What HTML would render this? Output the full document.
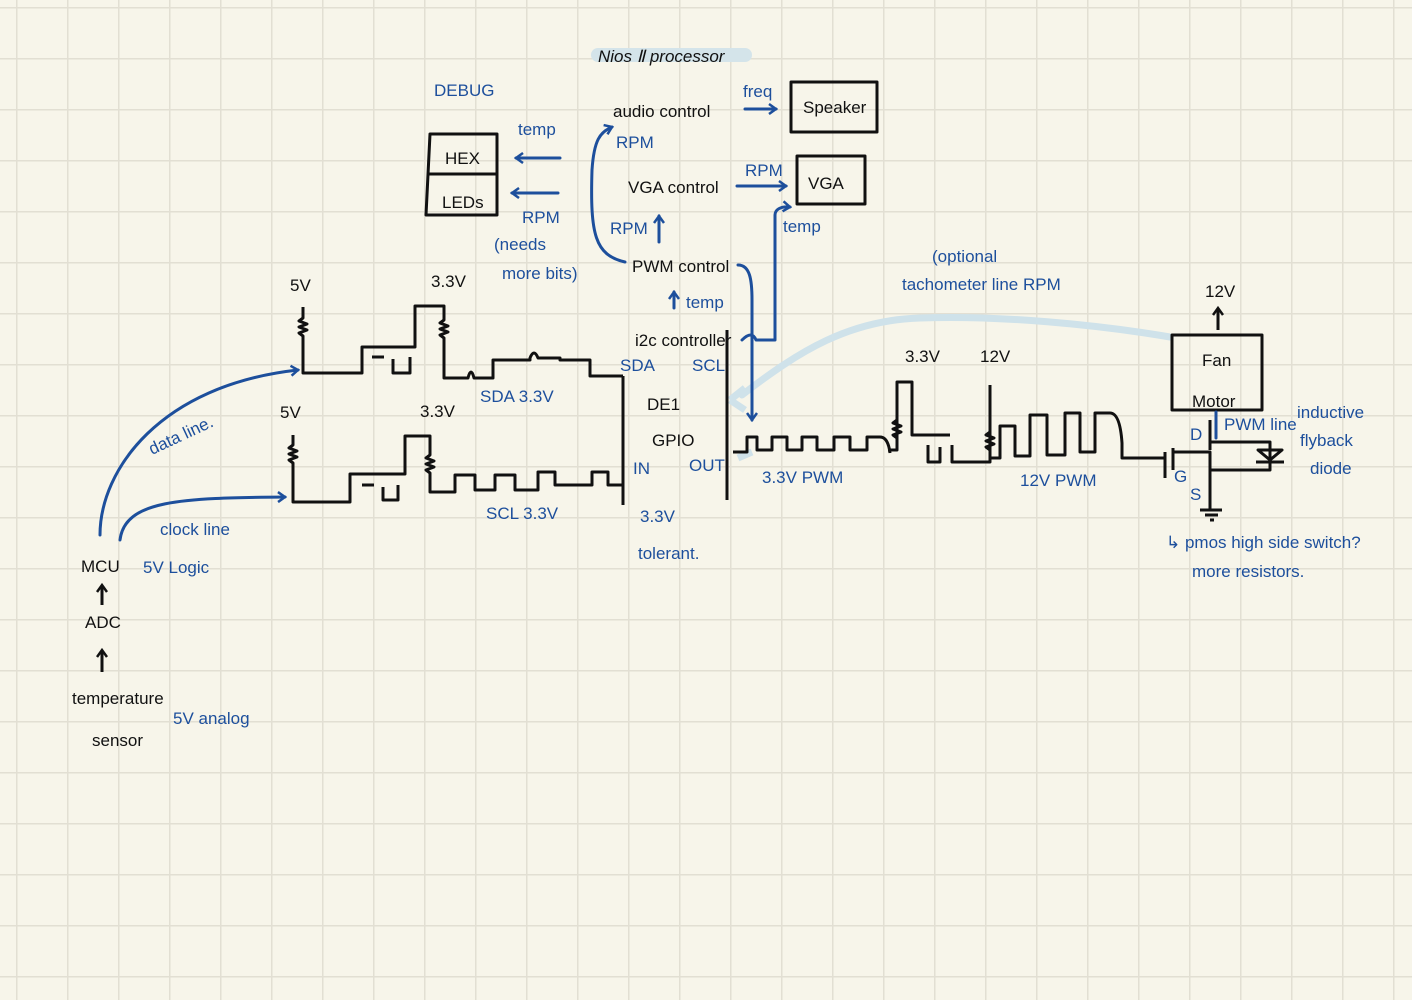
<!DOCTYPE html>
<html><head><meta charset="utf-8"><style>
html,body{margin:0;padding:0;background:#f7f5ea;}
svg{display:block}
text{font-family:"Liberation Sans",sans-serif;}
.k{fill:#111;font-size:17px}
.b{fill:#1d4f9c;font-size:17px}
</style></head><body>
<svg width="1412" height="1000" viewBox="0 0 1412 1000" xmlns="http://www.w3.org/2000/svg">
<defs>
<pattern id="g" x="16" y="7" width="51" height="51" patternUnits="userSpaceOnUse">
<path d="M0 0H51M0 0V51" stroke="#e2dfd3" stroke-width="3" fill="none"/>
</pattern>
<marker id="ab" markerUnits="userSpaceOnUse" markerWidth="12" markerHeight="12" refX="9" refY="6" orient="auto"><path d="M2 1L9 6L2 11" stroke="#1d4f9c" stroke-width="2.5" fill="none"/></marker>
<marker id="ak" markerUnits="userSpaceOnUse" markerWidth="12" markerHeight="12" refX="9" refY="6" orient="auto"><path d="M2 1L9 6L2 11" stroke="#111" stroke-width="2.5" fill="none"/></marker>
</defs>
<rect width="1412" height="1000" fill="#f7f5ea"/>
<rect width="1412" height="1000" fill="url(#g)"/>

<path d="M598 55 H745" stroke="#d4e4ea" stroke-width="14" stroke-linecap="round" fill="none"/>
<path d="M742 395 C800 350 850 320 920 318 C1000 315 1100 325 1170 337" stroke="#cfe2ea" stroke-width="7" stroke-linecap="round" fill="none"/>
<path d="M730 400 L745 388 M730 400 L745 410" stroke="#cfe2ea" stroke-width="7" fill="none"/>
<path d="M738 458 L752 452" stroke="#cfe2ea" stroke-width="7" fill="none"/>

<g stroke="#111" stroke-width="3" fill="none" stroke-linejoin="round">
<path d="M303 307 V318 l-4 3 l8 3 l-8 3 l8 3 l-8 3 l4 3 V373 H362 V347 H415 V306 H444 V320 l-4 3 l8 3 l-8 3 l8 3 l-8 3 l4 3 V378 H468 q3 -12 6 0 H493 V360 H530 V358 q4 -10 8 0 H560 V360 H590 V376 H623"/>
<path d="M372 357 H384 M393 359 V373 H410 V357"/>
<path d="M623 376 V505"/>
<path d="M293 435 V445 l-4 3 l8 3 l-8 3 l8 3 l-8 3 l4 3 V502 H350 V474 H405 V436 H430 V455 l-4 3 l8 3 l-8 3 l8 3 l-8 3 l4 3 V492 H455 V475 H475 V490 H495 V475 H515 V490 H538 V472 H555 V485 H592 V472 H608 V485 H622"/>
<path d="M362 485 H374 M383 487 V500 H398 V485"/>
<path d="M727 330 V500"/>
<path d="M733 452 H747 V437 H757 V450 H772 V437 H787 V450 H802 V437 H817 V450 H834 V437 H850 V450 H867 V437 H880 q8 0 10 16"/>
<path d="M888 450 H897 V420 l-4 3 l8 3 l-8 3 l8 3 l-8 3 l4 3 V382 H912 V435 H950"/>
<path d="M928 445 V462 H940 V447 M952 445 V462 H990 V432 l-4 3 l8 3 l-8 3 l8 3 l-8 3 l4 3 V385"/>
<path d="M990 458 H1000 V426 H1015 V456 H1030 V415 H1047 V455 H1065 V413 H1080 V452 H1095 V413 H1110 q10 0 12 30 V458 H1165"/>
<path d="M1165 452 V478 M1173 448 V470 M1173 452 H1210 V500 M1210 450 V442 H1270 V470 H1210 M1210 420 V442"/>
<path d="M1258 450 L1270 460 L1282 450 Z M1256 462 H1284"/>
<path d="M1210 500 V510 M1200 510 H1222 M1205 515 H1218 M1210 520 H1214"/>
<path d="M1172 335 H1262 V410 H1172 Z"/>
<path d="M1218 330 V308" marker-end="url(#ak)"/>
<path d="M430 134 H497 V215 H426 Z M428 174 H497"/>
<path d="M791 82 H877 V132 H791 Z"/>
<path d="M797 156 H865 V204 H797 Z"/>
<path d="M102 605 V585" marker-end="url(#ak)"/>
<path d="M102 672 V650" marker-end="url(#ak)"/>
</g>

<g stroke="#1d4f9c" stroke-width="3" fill="none" stroke-linejoin="round" stroke-linecap="round">
<path d="M100 535 C100 470 160 385 298 370" marker-end="url(#ab)"/>
<path d="M120 540 C125 500 180 498 285 497" marker-end="url(#ab)"/>
<path d="M560 158 H516" marker-end="url(#ab)"/>
<path d="M558 193 H512" marker-end="url(#ab)"/>
<path d="M625 262 C595 255 590 235 592 170 C594 140 600 132 612 127" marker-end="url(#ab)"/>
<path d="M745 109 H776" marker-end="url(#ab)"/>
<path d="M737 186 H786" marker-end="url(#ab)"/>
<path d="M659 242 V216" marker-end="url(#ab)"/>
<path d="M674 308 V292" marker-end="url(#ab)"/>
<path d="M738 265 C750 265 752 280 752 300 V420" marker-end="url(#ab)"/>
<path d="M742 340 Q752 330 756 340 H775 V215 C775 210 780 206 790 207" marker-end="url(#ab)"/>
<path d="M1216 412 V438"/>
</g>

<text class="k" x="598" y="62" font-style="italic" font-size="17">Nios Ⅱ processor</text>
<text class="k" x="613" y="117">audio control</text>
<text class="k" x="803" y="113">Speaker</text>
<text class="k" x="628" y="193">VGA control</text>
<text class="k" x="808" y="189" font-size="21">VGA</text>
<text class="k" x="632" y="272">PWM control</text>
<text class="k" x="635" y="346">i2c controller</text>
<text class="k" x="445" y="164" font-size="21">HEX</text>
<text class="k" x="442" y="208" font-size="21">LEDs</text>
<text class="k" x="290" y="291">5V</text>
<text class="k" x="431" y="287">3.3V</text>
<text class="k" x="280" y="418">5V</text>
<text class="k" x="420" y="417">3.3V</text>
<text class="k" x="647" y="410">DE1</text>
<text class="k" x="652" y="446">GPIO</text>
<text class="k" x="905" y="362">3.3V</text>
<text class="k" x="980" y="362">12V</text>
<text class="k" x="1205" y="297">12V</text>
<text class="k" x="1202" y="366" font-size="21">Fan</text>
<text class="k" x="1192" y="407">Motor</text>
<text class="k" x="81" y="572">MCU</text>
<text class="k" x="85" y="628">ADC</text>
<text class="k" x="72" y="704">temperature</text>
<text class="k" x="92" y="746">sensor</text>

<text class="b" x="434" y="96">DEBUG</text>
<text class="b" x="518" y="135">temp</text>
<text class="b" x="522" y="223">RPM</text>
<text class="b" x="494" y="250" font-size="15">(needs</text>
<text class="b" x="502" y="279" font-size="15">more bits)</text>
<text class="b" x="616" y="148">RPM</text>
<text class="b" x="743" y="97">freq</text>
<text class="b" x="745" y="176">RPM</text>
<text class="b" x="610" y="234">RPM</text>
<text class="b" x="686" y="308">temp</text>
<text class="b" x="783" y="232" font-size="14">temp</text>
<text class="b" x="620" y="371">SDA</text>
<text class="b" x="692" y="371">SCL</text>
<text class="b" x="480" y="402">SDA 3.3V</text>
<text class="b" x="486" y="519">SCL 3.3V</text>
<text class="b" x="633" y="474" font-size="15">IN</text>
<text class="b" x="689" y="471" font-size="15">OUT</text>
<text class="b" x="640" y="522">3.3V</text>
<text class="b" x="638" y="559">tolerant.</text>
<text class="b" x="762" y="483">3.3V PWM</text>
<text class="b" x="1020" y="486">12V PWM</text>
<text class="b" x="932" y="262" font-size="15">(optional</text>
<text class="b" x="902" y="290" font-size="15">tachometer line RPM</text>
<text class="b" x="1190" y="440">D</text>
<text class="b" x="1174" y="482">G</text>
<text class="b" x="1190" y="500">S</text>
<text class="b" x="1224" y="430" font-size="15">PWM line</text>
<text class="b" x="1297" y="418" font-size="15">inductive</text>
<text class="b" x="1300" y="446" font-size="15">flyback</text>
<text class="b" x="1310" y="474" font-size="15">diode</text>
<text class="b" x="1166" y="548" font-size="15">↳ pmos high side switch?</text>
<text class="b" x="1192" y="577" font-size="15">more resistors.</text>
<text class="b" x="152" y="455" font-size="15" transform="rotate(-25 152 455)">data line.</text>
<text class="b" x="160" y="535" font-size="16">clock line</text>
<text class="b" x="143" y="573">5V Logic</text>
<text class="b" x="173" y="724">5V analog</text>
</svg>
</body></html>
